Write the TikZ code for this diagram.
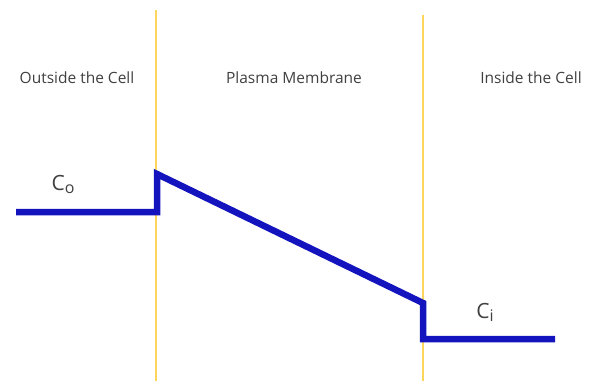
\documentclass[tikz,border=0pt]{standalone}
\usepackage{fontspec}
\setmainfont{Open Sans}
\begin{document}
\begin{tikzpicture}[x=1pt,y=-1pt,
  lbl/.style={text=black!75, font=\fontsize{15.5}{18}\selectfont, inner sep=0pt},
  wall/.style={draw={rgb,255:red,252;green,214;blue,90}, line width=2pt},
  prof/.style={draw={rgb,255:red,20;green,20;blue,190}, line width=6.5pt, line join=miter}]
\useasboundingbox (0,0) rectangle (592,381);
\coordinate (w1t) at (156,10); \coordinate (w1b) at (156,381);
\coordinate (w2t) at (423,15); \coordinate (w2b) at (423,381);
\draw[wall] (w1t) -- (w1b);
\draw[wall] (w2t) -- (w2b);
\coordinate (p0) at (16,212);
\coordinate (p1) at (157,212);
\coordinate (p2) at (157,174);
\coordinate (p3) at (423,303);
\coordinate (p4) at (423,339);
\coordinate (p5) at (555,339);
\draw[prof] (p0) -- (p1) -- (p2) -- (p3) -- (p4) -- (p5);
\node[lbl] (out) at (77,78) {Outside the Cell};
\node[lbl] (mem) at (294,78) {Plasma Membrane};
\node[lbl] (in) at (531,78) {Inside the Cell};
\node[lbl, font=\fontsize{21}{24}\selectfont] (co) at (63,184) {C\raisebox{-3pt}{\fontsize{16}{18}\selectfont o}};
\node[lbl, font=\fontsize{21}{24}\selectfont] (ci) at (485,312) {C\raisebox{-3pt}{\fontsize{16}{18}\selectfont i}};
\end{tikzpicture}
\end{document}
